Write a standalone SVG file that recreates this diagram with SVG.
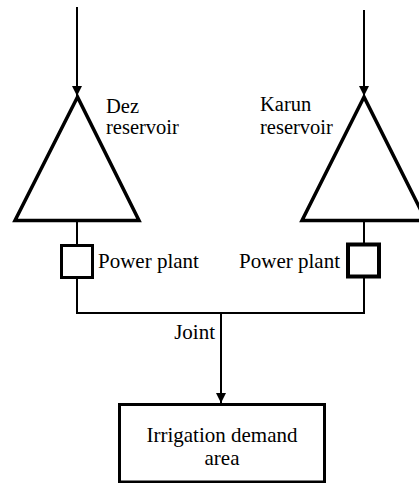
<svg xmlns="http://www.w3.org/2000/svg" width="419" height="483" viewBox="0 0 419 483">
<defs>
<marker id="ah" markerWidth="10" markerHeight="10" refX="10" refY="5" orient="auto" markerUnits="userSpaceOnUse">
<path d="M0,0 L10,5 L0,10 z" fill="#000"/>
</marker>
</defs>
<g id="connectors" fill="none" stroke="#000" stroke-width="2">
<line x1="77" y1="7" x2="77" y2="96" marker-end="url(#ah)"/>
<line x1="364" y1="10" x2="364" y2="96" marker-end="url(#ah)"/>
<line x1="77" y1="221" x2="77" y2="245"/>
<line x1="364" y1="221" x2="364" y2="244"/>
<polyline points="77,277 77,313 364,313 364,276"/>
<line x1="221" y1="313" x2="221" y2="403" marker-end="url(#ah)"/>
</g>
<g id="dez">
<polygon points="77.5,97 15,220.5 139,220.5" fill="#fff" stroke="#000" stroke-width="3.5"/>
<text x="106" y="113" font-family="Times New Roman" style="font-family:'Times New Roman','Liberation Serif',serif" font-size="20.5">Dez</text>
<text x="106" y="134" font-family="Times New Roman" style="font-family:'Times New Roman','Liberation Serif',serif" font-size="20.5">reservoir</text>
</g>
<g id="karun">
<polygon points="364,97 302,220.5 426,220.5" fill="#fff" stroke="#000" stroke-width="3.5"/>
<text x="260" y="111" font-family="Times New Roman" style="font-family:'Times New Roman','Liberation Serif',serif" font-size="20.5">Karun</text>
<text x="260" y="134" font-family="Times New Roman" style="font-family:'Times New Roman','Liberation Serif',serif" font-size="20.5">reservoir</text>
</g>
<g id="pp-left">
<rect x="61.5" y="245.5" width="31" height="32" fill="#fff" stroke="#000" stroke-width="3"/>
<text x="98" y="268" font-family="Times New Roman" style="font-family:'Times New Roman','Liberation Serif',serif" font-size="21">Power plant</text>
</g>
<g id="pp-right">
<rect x="348" y="244.5" width="31" height="32" fill="#fff" stroke="#000" stroke-width="4"/>
<text x="340" y="268" text-anchor="end" font-family="Times New Roman" style="font-family:'Times New Roman','Liberation Serif',serif" font-size="21">Power plant</text>
</g>
<g id="joint">
<text x="215" y="339" text-anchor="end" font-family="Times New Roman" style="font-family:'Times New Roman','Liberation Serif',serif" font-size="21">Joint</text>
</g>
<g id="irrigation">
<rect x="119.5" y="404.5" width="205" height="77.5" fill="#fff" stroke="#000" stroke-width="3"/>
<text x="222" y="442" text-anchor="middle" font-family="Times New Roman" style="font-family:'Times New Roman','Liberation Serif',serif" font-size="21">Irrigation demand</text>
<text x="222" y="465" text-anchor="middle" font-family="Times New Roman" style="font-family:'Times New Roman','Liberation Serif',serif" font-size="21">area</text>
</g>
</svg>
